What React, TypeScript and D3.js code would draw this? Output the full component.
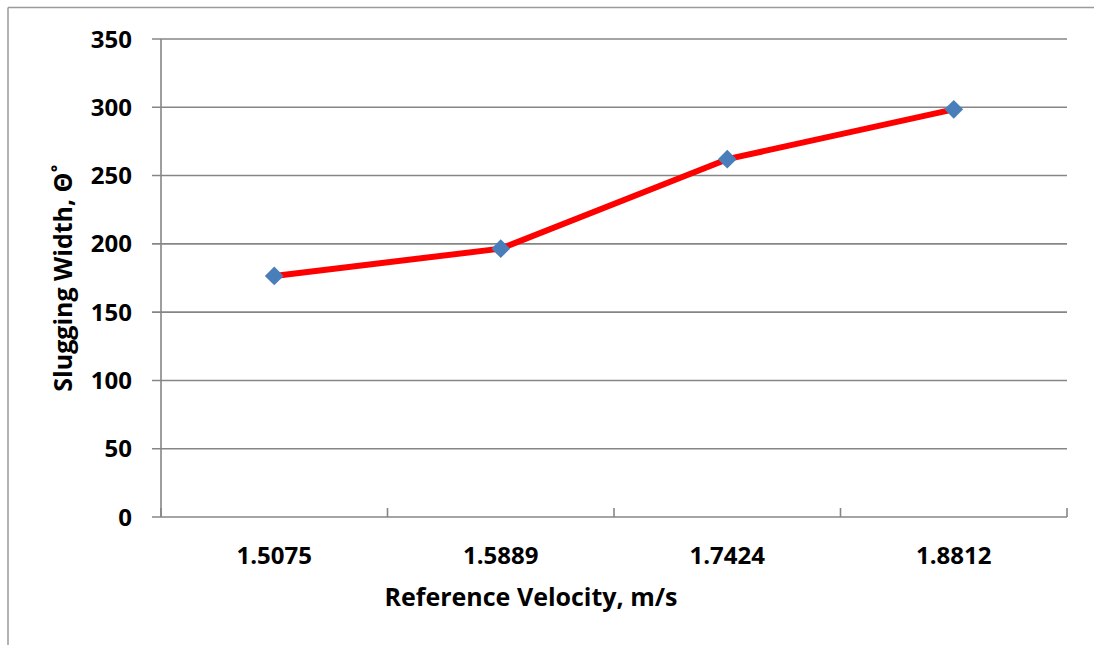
import React from "react";
import * as d3 from "d3";

const velocities = ["1.5075", "1.5889", "1.7424", "1.8812"];
const slugWidth = [176.5, 196.5, 262, 298.5];
const yTicks = [0, 50, 100, 150, 200, 250, 300, 350];

const W = 1094;
const H = 645;
const plot = { left: 161, right: 1067, top: 39, bottom: 517 };
const FONT = "'Open Sans', Lato, sans-serif";

export default function App() {
  const x = d3
    .scaleBand<string>()
    .domain(velocities)
    .range([plot.left, plot.right])
    .paddingInner(0)
    .paddingOuter(0);
  const y = d3.scaleLinear().domain([0, 350]).range([plot.bottom, plot.top]);

  const pts = velocities.map((v, i) => [x(v)! + x.bandwidth() / 2, y(slugWidth[i])] as [number, number]);
  const linePath = d3.line()(pts) ?? "";
  const diamond = d3.symbol().type(d3.symbolDiamond2).size(225)() ?? "";

  const boundaries = [...velocities.map((v) => x(v)!), plot.right];

  return (
    <svg
      width={W}
      height={H}
      style={{ position: "absolute", left: 0, top: 0, background: "#fff" }}
    >
      {/* outer chart frame */}
      <line x1={8} x2={W} y1={7.5} y2={7.5} stroke="#9a9a9a" strokeWidth={1.5} />
      <line x1={8} x2={8} y1={7.5} y2={H} stroke="#9a9a9a" strokeWidth={1.5} />

      {/* horizontal gridlines */}
      {yTicks.map((t) => (
        <g key={t}>
          <line
            x1={plot.left - 9}
            x2={plot.right}
            y1={y(t)}
            y2={y(t)}
            stroke="#868686"
            strokeWidth={1.6}
          />
          <text
            x={132}
            y={y(t)}
            dy="0.36em"
            textAnchor="end"
            fontFamily={FONT}
            fontWeight={700}
            fontSize={24}
            fill="#000"
          >
            {t}
          </text>
        </g>
      ))}

      {/* value axis */}
      <line x1={plot.left} x2={plot.left} y1={plot.top} y2={plot.bottom} stroke="#868686" strokeWidth={1.6} />

      {/* category tick marks */}
      {boundaries.map((bx, i) => (
        <line
          key={i}
          x1={bx}
          x2={bx}
          y1={plot.bottom}
          y2={plot.bottom - 9}
          stroke="#868686"
          strokeWidth={1.6}
        />
      ))}

      {/* category labels */}
      {velocities.map((v) => (
        <text
          key={v}
          x={x(v)! + x.bandwidth() / 2}
          y={555}
          dy="0.36em"
          textAnchor="middle"
          fontFamily={FONT}
          fontWeight={700}
          fontSize={24}
          fill="#000"
        >
          {v}
        </text>
      ))}

      {/* series */}
      <path d={linePath} fill="none" stroke="#ff0000" strokeWidth={6} strokeLinejoin="round" />
      {pts.map(([px, py], i) => (
        <path key={i} d={diamond} transform={`translate(${px},${py})`} fill="#4a7ebb" />
      ))}

      {/* axis titles */}
      <text
        x={531}
        y={597}
        dy="0.36em"
        textAnchor="middle"
        fontFamily={FONT}
        fontWeight={700}
        fontSize={25}
        fill="#000"
      >
        Reference Velocity, m/s
      </text>
      <text
        transform={`translate(63, ${(plot.top + plot.bottom) / 2}) rotate(-90)`}
        dy="0.36em"
        textAnchor="middle"
        fontFamily={FONT}
        fontWeight={700}
        fontSize={25}
        fill="#000"
      >
        Slugging Width, Θ˚
      </text>
    </svg>
  );
}
